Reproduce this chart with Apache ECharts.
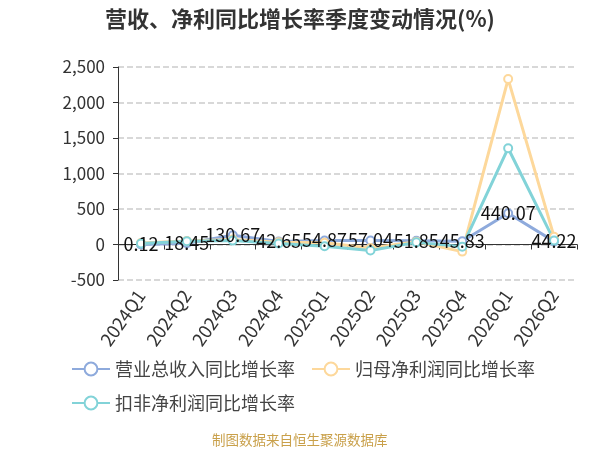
<!DOCTYPE html>
<html lang="zh">
<head>
    <meta charset="UTF-8">
    <title>营收、净利同比增长率季度变动情况(%)</title>
    <script src="https://cdn.jsdelivr.net/npm/echarts@6/dist/echarts.min.js"></script>
    <style>
        html, body { margin: 0; padding: 0; background: #fff; }
        .chart { width: 600px; height: 450px; }
    </style>
</head>
<body>
<div class="chart"></div>
<script>
    // 季度
    const quarters = ['2024Q1', '2024Q2', '2024Q3', '2024Q4', '2025Q1', '2025Q2', '2025Q3', '2025Q4', '2026Q1', '2026Q2'];
    // 营业总收入同比增长率
    const revenueGrowth = [0.12, 18.45, 130.67, 42.65, 54.87, 57.04, 51.85, 45.83, 440.07, 44.22];
    // 归母净利润同比增长率
    const netProfitGrowth = [20, 50, 70, 30, 25, -50, 40, -100, 2330, 110];
    // 扣非净利润同比增长率
    const deductedProfitGrowth = [15, 45, 55, 15, -25, -85, 30, -30, 1356, 55];

    const font = '"Noto Sans CJK SC", "Noto Sans", sans-serif';
    const colors = ['#8eaadc', '#fdd89b', '#82d3d8'];

    let chart = echarts.init(document.querySelector('.chart'));

    function lineSeries(name, data, showLabel) {
        return {
            name,
            type: 'line',
            data,
            symbol: 'emptyCircle',
            symbolSize: 8,
            lineStyle: { width: 3 },
            label: {
                show: showLabel,
                position: 'inside',
                color: '#111',
                fontSize: 18,
                fontFamily: font
            }
        };
    }

    let option = {
        color: colors,
        textStyle: { fontFamily: font },
        title: {
            text: '营收、净利同比增长率季度变动情况(%)',
            left: 'center',
            top: 3,
            textStyle: { fontSize: 22, fontWeight: 'bold', color: '#333', fontFamily: font }
        },
        legend: {
            left: 66,
            top: 355,
            width: 500,
            itemWidth: 38,
            itemHeight: 16,
            itemGap: 16,
            textStyle: { fontSize: 18, color: '#444', fontFamily: font },
            data: ['营业总收入同比增长率', '归母净利润同比增长率', '扣非净利润同比增长率']
        },
        grid: {
            left: 118,
            right: 23,
            top: 67,
            bottom: 170
        },
        xAxis: {
            type: 'category',
            data: quarters,
            axisLine: { lineStyle: { color: '#333' } },
            axisTick: { show: true },
            axisLabel: {
                rotate: 55,
                fontSize: 18,
                color: '#333',
                interval: 0,
                margin: 12,
                fontFamily: font
            }
        },
        yAxis: {
            type: 'value',
            min: -500,
            max: 2500,
            interval: 500,
            axisLine: { show: true, lineStyle: { color: '#333' } },
            axisTick: { show: true },
            axisLabel: { fontSize: 17, color: '#333', margin: 13, fontFamily: font },
            splitLine: { lineStyle: { type: 'dashed', color: '#ccc', width: 1.5 } }
        },
        graphic: [{
            type: 'text',
            left: 212,
            top: 433,
            style: {
                text: '制图数据来自恒生聚源数据库',
                fill: '#c9a04a',
                fontSize: 13.5,
                fontFamily: font
            }
        }],
        series: [
            lineSeries('营业总收入同比增长率', revenueGrowth, true),
            lineSeries('归母净利润同比增长率', netProfitGrowth, false),
            lineSeries('扣非净利润同比增长率', deductedProfitGrowth, false)
        ]
    };

    chart.setOption(option);
</script>
</body>
</html>
